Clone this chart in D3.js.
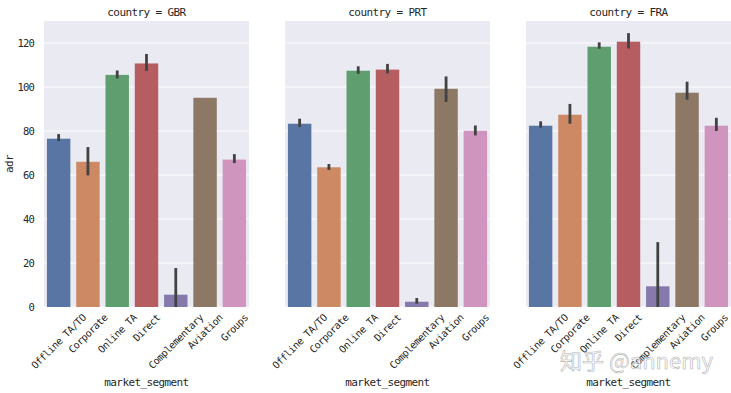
<!DOCTYPE html>
<html><head><meta charset="utf-8">
<script src="https://cdn.jsdelivr.net/npm/d3@7"></script>
<style>
body{margin:0;background:#fff;}
svg text{font-family:"DejaVu Sans Mono","Liberation Mono",monospace;fill:#262626;}
</style></head>
<body><svg id="c" width="731" height="393"></svg>
<script>
const categories = ["Offline TA/TO","Corporate","Online TA","Direct","Complementary","Aviation","Groups"];
const countries = ["GBR","PRT","FRA"];
const gbrAdr  = [76.5, 66.0, 105.5, 110.7, 5.6, 95.1, 67.0];
const gbrLow  = [75.4, 59.8, 103.9, 107.3, 0.0, null, 65.4];
const gbrHigh = [78.6, 72.7, 107.5, 115.0, 17.7, null, 69.5];
const prtAdr  = [83.3, 63.5, 107.4, 107.9, 2.4, 99.2, 80.1];
const prtLow  = [81.8, 62.3, 106.0, 106.2, 1.5, 93.2, 78.0];
const prtHigh = [85.6, 65.0, 109.4, 110.5, 4.1, 104.8, 82.5];
const fraAdr  = [82.4, 87.4, 118.3, 120.6, 9.4, 97.4, 82.4];
const fraLow  = [81.5, 83.3, 117.4, 117.5, 0.0, 94.2, 80.0];
const fraHigh = [84.4, 92.3, 120.3, 124.5, 29.5, 102.4, 86.0];
const yTicks = [0, 20, 40, 60, 80, 100, 120];
const colors = ["#5875a4","#cc8963","#5f9e6e","#b55d60","#857aab","#8d7866","#d095bf"];

const series = [
  {country: countries[0], adr: gbrAdr, low: gbrLow, high: gbrHigh},
  {country: countries[1], adr: prtAdr, low: prtLow, high: prtHigh},
  {country: countries[2], adr: fraAdr, low: fraLow, high: fraHigh}
];

const svg = d3.select("#c");
const panelX = [44, 285, 526], panelW = 205, plotTop = 21, plotBottom = 307;
const y = d3.scaleLinear().domain([0, 130]).range([plotBottom, plotTop]);

series.forEach((s, pi) => {
  const x0 = panelX[pi];
  const x = d3.scaleBand().domain(categories).range([x0, x0 + panelW]).paddingInner(0.2).paddingOuter(0.1);
  const g = svg.append("g");
  g.append("rect").attr("x", x0).attr("y", plotTop).attr("width", panelW).attr("height", plotBottom - plotTop).attr("fill", "#eaeaf2");
  g.selectAll("line.grid").data(yTicks).join("line")
    .attr("x1", x0).attr("x2", x0 + panelW)
    .attr("y1", d => y(d)).attr("y2", d => y(d))
    .attr("stroke", "#fff").attr("stroke-width", 1);
  g.selectAll("rect.bar").data(categories).join("rect")
    .attr("x", d => x(d)).attr("width", x.bandwidth())
    .attr("y", (d, i) => y(s.adr[i])).attr("height", (d, i) => y(0) - y(s.adr[i]))
    .attr("fill", (d, i) => colors[i]);
  g.selectAll("line.err").data(categories.filter((d, i) => s.low[i] !== null)).join("line")
    .attr("x1", d => x(d) + x.bandwidth() / 2).attr("x2", d => x(d) + x.bandwidth() / 2)
    .attr("y1", d => y(s.low[categories.indexOf(d)]))
    .attr("y2", d => y(s.high[categories.indexOf(d)]))
    .attr("stroke", "#424242").attr("stroke-width", 2.8);
  g.append("text").attr("x", x0 + panelW / 2).attr("y", 12).attr("text-anchor", "middle")
    .attr("dominant-baseline", "central").attr("font-size", 11).attr("letter-spacing", -0.6)
    .text("country = " + s.country);
  categories.forEach(c => {
    const cx = x(c) + x.bandwidth() / 2;
    const t = g.append("text").attr("font-size", 10).attr("letter-spacing", -0.45)
      .attr("text-anchor", "middle").attr("dominant-baseline", "central").text(c);
    const L = t.node().getComputedTextLength();
    const h = 8;
    const half = (L + h) / Math.SQRT2 / 2;
    const cxc = Math.min(cx, 729 - half);
    t.attr("transform", `translate(${cxc},${313 + half}) rotate(-45)`);
  });
  g.append("text").attr("x", x0 + panelW / 2).attr("y", 382).attr("text-anchor", "middle")
    .attr("dominant-baseline", "central").attr("font-size", 11).attr("letter-spacing", -0.6)
    .text("market_segment");
});

svg.selectAll("text.yt").data(yTicks).join("text")
  .attr("x", 34).attr("y", d => y(d)).attr("text-anchor", "end").attr("dominant-baseline", "central")
  .attr("font-size", 10.5).attr("letter-spacing", -0.8).text(d => d);
svg.append("text").attr("transform", `translate(9,${(plotTop + plotBottom) / 2}) rotate(-90)`)
  .attr("text-anchor", "middle").attr("dominant-baseline", "central")
  .attr("font-size", 11).attr("letter-spacing", -0.6).text("adr");

svg.append("text").attr("x", 560).attr("y", 369)
  .style("font-family", "'Noto Sans CJK SC', sans-serif").style("fill", "#ffffff")
  .attr("font-size", 22).attr("opacity", 0.75).attr("stroke", "#9a9a9a").attr("stroke-width", 0.6)
  .text("知乎 @annemy");
</script></body></html>
